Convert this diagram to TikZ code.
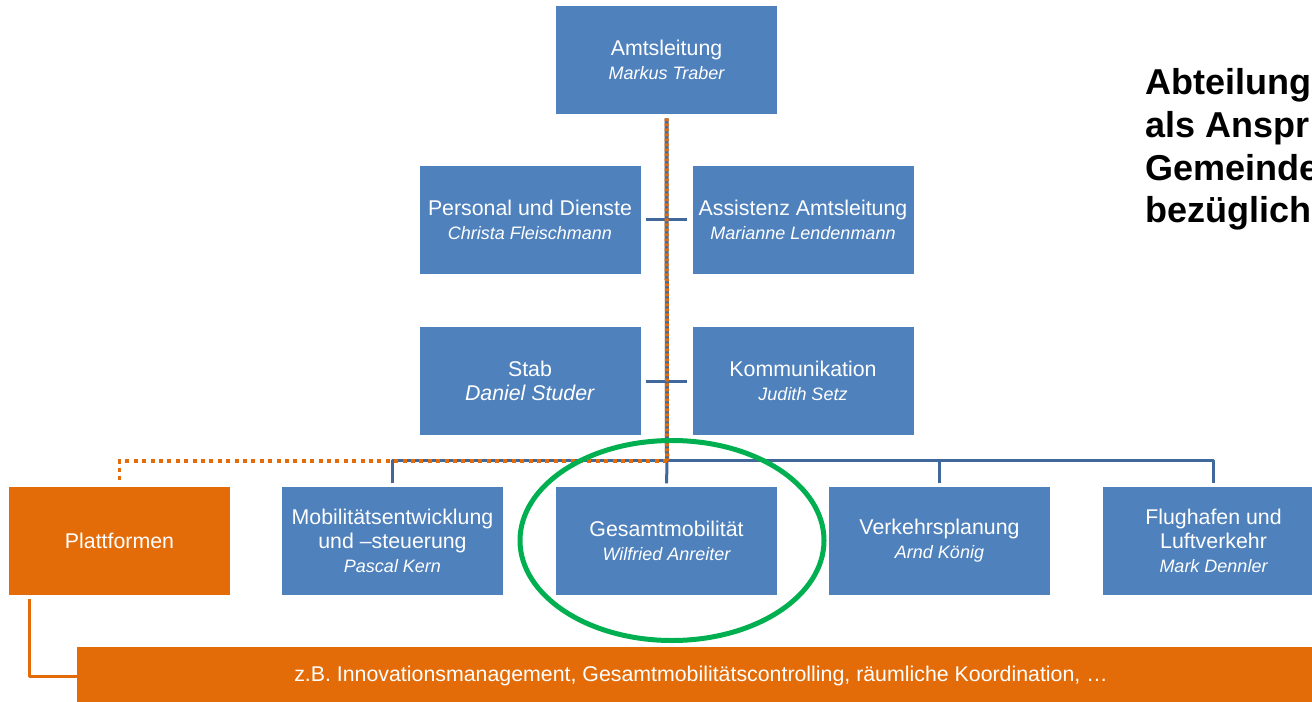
\documentclass[tikz,border=0pt]{standalone}
\usepackage{fontspec}
\setmainfont{Liberation Sans}
\usetikzlibrary{shapes.geometric}
\definecolor{boxblue}{HTML}{4F81BD}
\definecolor{lineblue}{HTML}{41689B}
\definecolor{orgcol}{HTML}{E36C09}
\definecolor{hlgreen}{HTML}{00B050}
\newcommand\pname[1]{{\fontsize{13.5}{18}\selectfont\itshape #1}}
\begin{document}
\begin{tikzpicture}[x=0.75pt,y=-0.75pt,
  box/.style={rectangle, fill=boxblue, text=white, minimum width=165.75pt, minimum height=81pt,
    inner sep=0pt, align=center, font=\fontsize{16}{18}\selectfont},
  obox/.style={box, fill=orgcol},
  conn/.style={draw=lineblue, line width=2.25pt, line join=round},
  vconn/.style={draw=lineblue, line width=3pt},
  odash/.style={draw=orgcol, line width=3pt, dash pattern=on 2.25pt off 1.5pt},
  odot/.style={draw=orgcol, line width=2.6pt, dash pattern=on 3pt off 3.3pt},
  oline/.style={draw=orgcol, line width=2.25pt, line join=round},
  note/.style={anchor=base west, inner sep=0pt, font=\fontsize{27}{32}\selectfont\bfseries}
]
\useasboundingbox (0,0) rectangle (1312,702);
\clip (0,0) rectangle (1312,702);
\fill[white] (0,0) rectangle (1312,702);

% boxes
\node[box] (amt)  at (666.5,60)  {Amtsleitung\\\pname{Markus Traber}};
\node[box] (pers) at (530,220)   {Personal und Dienste\\\pname{Christa Fleischmann}};
\node[box] (ass)  at (803,220)   {Assistenz Amtsleitung\\\pname{Marianne Lendenmann}};
\node[box] (stab) at (530,381)   {Stab\\\textit{Daniel Studer}};
\node[box] (kom)  at (803,381)   {Kommunikation\\\pname{Judith Setz}};
\node[obox] (plat) at (119.5,541) {Plattformen};
\node[box] (mob)  at (392.5,541) {Mobilitätsentwicklung\\und –steuerung\\\pname{Pascal Kern}};
\node[box] (ges)  at (666.5,541) {Gesamtmobilität\\\pname{Wilfried Anreiter}};
\node[box] (ver)  at (939.5,541) {Verkehrsplanung\\\pname{Arnd König}};
\node[box] (flu)  at (1213.5,541) {Flughafen und\\Luftverkehr\\\pname{Mark Dennler}};
\node[rectangle, fill=orgcol, text=white, minimum width=936pt, minimum height=43.5pt, inner sep=0pt,
  font=\fontsize{16}{18}\selectfont] (bar) at (701,676)
  {z.B. Innovationsmanagement, Gesamtmobilitätscontrolling, räumliche Koordination, …};

% junction
\coordinate (j) at (667,461);

% blue connectors
\draw[vconn, shorten <=3pt] (amt.south) -- (j);
\draw[conn, shorten <=2.5pt] (mob.north) -- ++(0,-26) -| ([yshift=2.5pt]flu.north);
\draw[conn, shorten <=2.5pt] (ges.north) -- (j);
\draw[conn, shorten <=2.5pt] (ver.north) -- ++(0,-26);
\draw[conn, shorten <=3.75pt, shorten >=3.75pt] (pers.east) -- (ass.west);
\draw[conn, shorten <=3.75pt, shorten >=3.75pt] (stab.east) -- (kom.west);

% orange overlays
\draw[odash, shorten <=3pt] (amt.south) -- (j);
\draw[odot, shorten >=3pt] (j) -| (plat.north);
\draw[oline] (plat.south west) ++(21,4) |- (bar.west);

% highlight
\node[ellipse, draw=hlgreen, line width=3.75pt, minimum width=228pt, minimum height=150pt, inner sep=0pt] (hl) at (672,540.5) {};

% side note
\node[note] (n1) at (1145,95)  {Abteilung};
\node[note] (n2) at (1145,138) {als Anspr};
\node[note] (n3) at (1145,181) {Gemeinde};
\node[note] (n4) at (1145,223) {bezüglich};
\end{tikzpicture}
\end{document}
